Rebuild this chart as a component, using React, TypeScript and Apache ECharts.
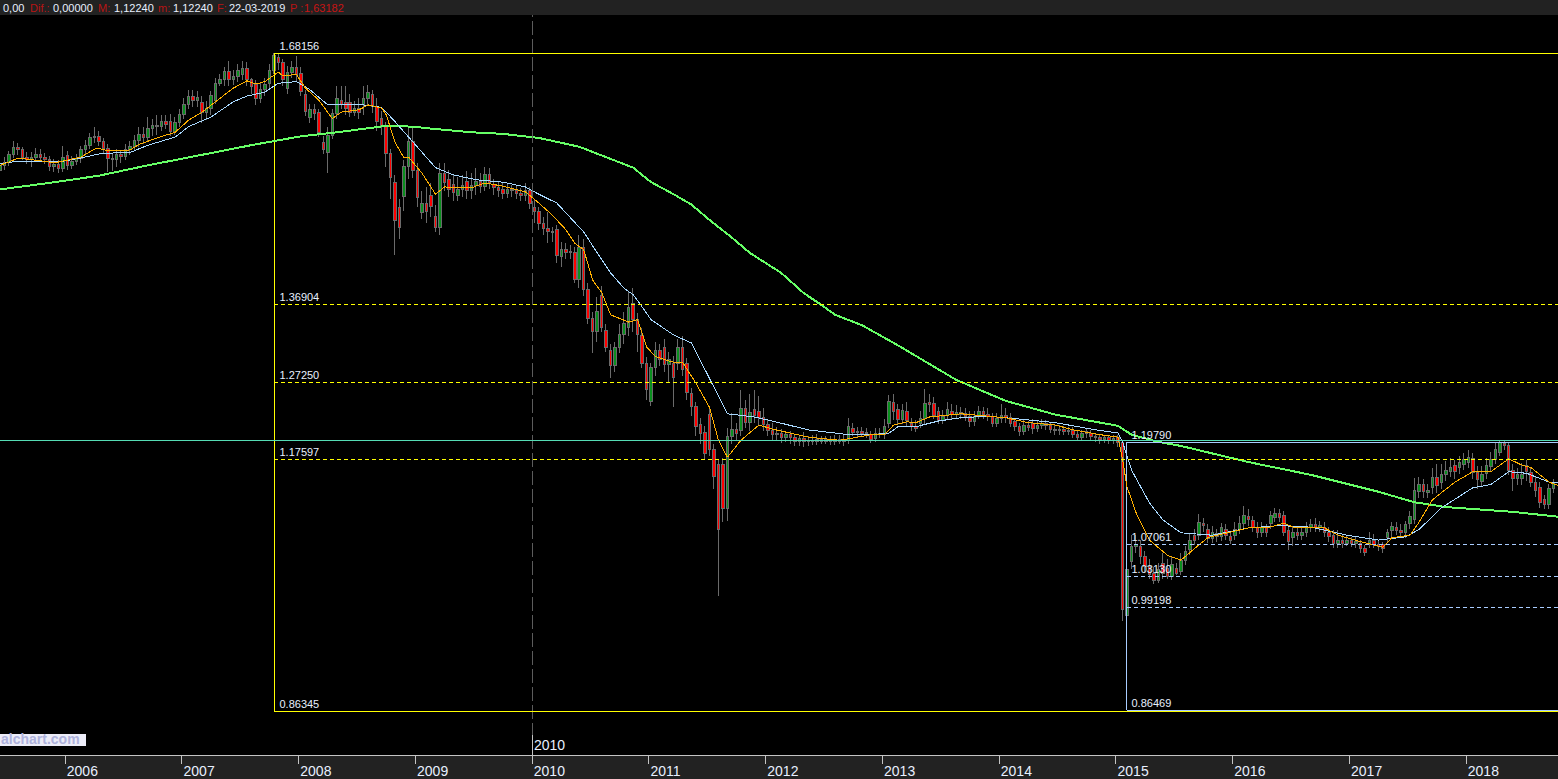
import React, { useEffect, useRef } from 'react';
import * as echarts from 'echarts';

// bars are [open, close, low, high] in thousandths, one bar every two weeks
const candles2005 = [[1536,1542,1528,1548],[1542,1546,1536,1552],[1546,1555,1541,1560],[1555,1564,1551,1572],[1564,1561,1555,1570],[1561,1552,1548,1565],[1552,1549,1544,1558],[1549,1552,1540,1558],[1552,1555,1546,1564],[1555,1552,1547,1562],[1552,1549,1543,1557],[1549,1541,1535,1553],[1541,1543,1534,1550],[1543,1538,1532,1548]];
const candles2006 = [[1538,1552,1534,1566],[1554,1542,1536,1560],[1542,1547,1537,1553],[1547,1550,1542,1556],[1550,1561,1545,1566],[1561,1567,1555,1574],[1567,1576,1562,1582],[1576,1578,1570,1590],[1578,1571,1566,1584],[1571,1563,1556,1576],[1563,1551,1534,1568],[1551,1549,1535,1556],[1549,1555,1540,1562],[1555,1553,1545,1560],[1553,1561,1548,1568],[1561,1565,1555,1572],[1565,1573,1560,1580],[1573,1580,1565,1590],[1580,1577,1568,1590],[1577,1588,1572,1602],[1588,1592,1578,1600],[1592,1590,1580,1604],[1590,1596,1585,1604],[1596,1593,1587,1604],[1597,1584,1578,1606],[1584,1595,1580,1602]];
const candles2007 = [[1595,1605,1590,1612],[1605,1618,1600,1625],[1618,1628,1612,1636],[1628,1622,1615,1636],[1622,1626,1615,1634],[1620,1607,1595,1628],[1607,1613,1598,1622],[1613,1629,1605,1634],[1623,1644,1618,1650],[1644,1648,1640,1655],[1648,1658,1640,1664],[1659,1649,1640,1672],[1649,1652,1642,1660],[1652,1660,1645,1668],[1655,1662,1648,1672],[1662,1648,1640,1670],[1648,1640,1630,1650],[1642,1625,1617,1648],[1625,1636,1620,1645],[1636,1642,1628,1650],[1644,1660,1638,1668],[1660,1678,1655,1682],[1676,1670,1660,1680],[1670,1648,1640,1674],[1637,1657,1630,1665],[1657,1664,1650,1672]];
const candles2008 = [[1664,1655,1645,1678],[1656,1634,1628,1664],[1630,1609,1603,1636],[1601,1611,1595,1618],[1611,1606,1598,1618],[1607,1583,1577,1612],[1570,1562,1556,1578],[1558,1579,1532,1590],[1579,1606,1575,1612],[1606,1625,1600,1640],[1622,1618,1612,1640],[1620,1612,1604,1640],[1620,1608,1602,1630],[1608,1612,1603,1622],[1612,1608,1600,1625],[1617,1625,1605,1640],[1625,1633,1616,1642],[1630,1615,1607,1636],[1615,1597,1585,1625],[1600,1590,1580,1610],[1592,1556,1540,1596],[1556,1527,1500,1562],[1521,1473,1430,1530],[1490,1465,1450,1500],[1503,1540,1485,1548],[1540,1571,1525,1590]];
const candles2009 = [[1571,1536,1526,1590],[1536,1502,1490,1545],[1483,1495,1475,1510],[1495,1484,1470,1515],[1504,1491,1478,1520],[1478,1465,1459,1492],[1465,1532,1455,1545],[1532,1520,1510,1545],[1524,1512,1503,1536],[1518,1508,1498,1530],[1505,1512,1497,1527],[1512,1517,1503,1530],[1522,1511,1500,1535],[1511,1517,1500,1532],[1517,1522,1505,1539],[1522,1515,1507,1532],[1515,1530,1510,1540],[1530,1520,1512,1538],[1518,1514,1505,1525],[1514,1510,1503,1522],[1512,1507,1500,1520],[1507,1512,1501,1520],[1512,1510,1502,1518],[1510,1507,1500,1516],[1507,1505,1498,1514],[1505,1511,1497,1520]];
const candles2010 = [[1510,1495,1488,1515],[1490,1484,1470,1500],[1484,1470,1462,1490],[1470,1463,1455,1478],[1463,1460,1445,1484],[1460,1458,1447,1465],[1462,1430,1420,1468],[1428,1437,1415,1446],[1437,1433,1425,1445],[1433,1435,1426,1443],[1433,1400,1395,1440],[1400,1440,1390,1455],[1440,1388,1380,1450],[1387,1351,1345,1395],[1351,1335,1309,1360],[1335,1360,1322,1378],[1380,1340,1335,1392],[1336,1315,1310,1345],[1312,1293,1277,1320],[1293,1316,1285,1322],[1316,1332,1308,1345],[1332,1345,1320,1360],[1340,1365,1330,1385],[1370,1350,1335,1390],[1350,1331,1310,1358],[1330,1296,1290,1340]];
const candles2011 = [[1296,1263,1250,1303],[1248,1290,1243,1296],[1290,1312,1280,1322],[1312,1300,1292,1320],[1316,1294,1285,1326],[1294,1300,1272,1310],[1296,1278,1241,1305],[1296,1316,1288,1326],[1316,1288,1280,1330],[1295,1259,1250,1302],[1258,1242,1230,1265],[1242,1217,1205,1248],[1220,1208,1195,1228],[1210,1183,1175,1218],[1232,1188,1180,1240],[1188,1155,1140,1195],[1170,1089,1006,1176],[1170,1115,1098,1178],[1115,1205,1100,1215],[1205,1214,1195,1234],[1214,1208,1200,1222],[1212,1240,1205,1262],[1240,1222,1215,1250],[1222,1235,1212,1258],[1238,1231,1222,1262],[1236,1228,1218,1255]];
const candles2012 = [[1228,1220,1212,1240],[1220,1212,1205,1226],[1212,1207,1200,1222],[1207,1208,1200,1216],[1208,1204,1197,1214],[1204,1207,1198,1212],[1207,1203,1196,1212],[1203,1199,1193,1208],[1199,1202,1193,1207],[1202,1198,1192,1210],[1198,1200,1193,1205],[1200,1198,1194,1206],[1198,1201,1194,1208],[1201,1199,1195,1205],[1199,1201,1195,1205],[1201,1198,1194,1205],[1198,1201,1194,1206],[1201,1199,1195,1207],[1199,1201,1193,1206],[1200,1217,1195,1228],[1215,1210,1205,1222],[1210,1211,1204,1217],[1211,1208,1204,1216],[1208,1210,1203,1215],[1207,1201,1197,1212],[1202,1208,1198,1215]];
const candles2013 = [[1208,1207,1203,1215],[1207,1217,1202,1226],[1221,1248,1215,1256],[1247,1236,1225,1258],[1238,1226,1220,1245],[1226,1237,1220,1245],[1236,1225,1218,1248],[1221,1217,1212,1228],[1217,1215,1210,1225],[1221,1227,1215,1236],[1227,1246,1220,1264],[1247,1244,1235,1258],[1246,1231,1226,1254],[1236,1225,1220,1242],[1225,1229,1220,1238],[1231,1238,1226,1248],[1236,1232,1226,1245],[1232,1235,1227,1244],[1235,1232,1226,1242],[1233,1229,1224,1240],[1229,1223,1216,1236],[1224,1230,1218,1236],[1231,1236,1226,1243],[1236,1232,1227,1242],[1232,1229,1224,1240],[1229,1221,1216,1234]];
const candles2014 = [[1221,1227,1216,1234],[1227,1231,1222,1245],[1231,1228,1222,1240],[1228,1221,1216,1234],[1223,1217,1211,1228],[1217,1211,1205,1222],[1211,1219,1206,1226],[1219,1216,1211,1224],[1221,1215,1208,1226],[1215,1218,1210,1224],[1218,1221,1214,1226],[1221,1218,1213,1225],[1218,1214,1209,1223],[1214,1212,1207,1219],[1212,1214,1207,1219],[1214,1211,1206,1218],[1211,1212,1206,1216],[1212,1207,1203,1216],[1207,1204,1200,1212],[1204,1209,1201,1213],[1209,1211,1203,1215],[1209,1205,1200,1213],[1205,1203,1198,1209],[1203,1201,1196,1207],[1201,1203,1197,1207],[1203,1200,1196,1206]];
const candles2015 = [[1200,1202,1196,1207],[1204,1197,1192,1207],[1197,990,975,1200],[982,1039,975,1050],[1049,1068,1040,1082],[1068,1070,1060,1082],[1068,1055,1046,1076],[1055,1043,1035,1062],[1043,1033,1028,1052],[1035,1026,1021,1042],[1026,1040,1022,1048],[1047,1035,1028,1060],[1041,1031,1028,1052],[1031,1045,1026,1056],[1041,1035,1032,1048],[1037,1051,1032,1060],[1051,1062,1045,1068],[1064,1076,1058,1084],[1082,1076,1070,1090],[1082,1098,1076,1108],[1097,1094,1086,1104],[1089,1078,1072,1096],[1078,1086,1072,1094],[1084,1080,1074,1090],[1080,1091,1075,1097],[1089,1082,1076,1096]];
const candles2016 = [[1080,1076,1071,1086],[1082,1089,1076,1098],[1089,1097,1084,1106],[1097,1107,1090,1118],[1105,1101,1094,1114],[1100,1091,1086,1106],[1092,1085,1079,1098],[1086,1092,1080,1098],[1091,1085,1080,1096],[1097,1107,1090,1112],[1104,1109,1098,1116],[1109,1104,1098,1114],[1107,1086,1081,1112],[1088,1074,1064,1094],[1079,1085,1068,1092],[1085,1082,1076,1092],[1082,1086,1076,1094],[1086,1091,1080,1098],[1091,1095,1086,1102],[1095,1091,1086,1104],[1091,1094,1086,1100],[1092,1086,1080,1098],[1086,1080,1074,1092],[1082,1072,1066,1088],[1072,1076,1066,1088],[1076,1072,1066,1084]];
const candles2017 = [[1072,1075,1068,1082],[1075,1072,1067,1080],[1072,1074,1066,1080],[1072,1066,1060,1076],[1066,1061,1056,1070],[1072,1076,1066,1086],[1076,1071,1066,1084],[1071,1068,1063,1076],[1070,1066,1060,1074],[1079,1085,1074,1090],[1088,1093,1080,1098],[1092,1088,1082,1098],[1088,1086,1080,1096],[1085,1095,1078,1100],[1097,1105,1090,1112],[1101,1138,1096,1153],[1136,1145,1128,1155],[1145,1136,1128,1152],[1135,1138,1128,1146],[1141,1154,1133,1166],[1154,1144,1135,1170],[1148,1157,1140,1170],[1157,1163,1150,1174],[1161,1166,1155,1178],[1169,1161,1152,1176],[1166,1172,1158,1180]];
const candles2018 = [[1170,1176,1163,1184],[1173,1179,1165,1188],[1177,1160,1152,1184],[1160,1151,1140,1168],[1149,1157,1142,1168],[1159,1169,1152,1178],[1167,1176,1160,1186],[1176,1188,1170,1198],[1185,1197,1180,1201],[1196,1194,1188,1199],[1194,1163,1157,1198],[1163,1152,1137,1170],[1152,1157,1144,1165],[1152,1158,1145,1172],[1169,1161,1150,1175],[1160,1148,1142,1166],[1148,1137,1130,1155],[1141,1123,1116,1148],[1126,1120,1114,1132],[1120,1140,1114,1146],[1140,1147,1135,1152]];

// moving averages, read at the bar numbers next to them
const fastBars = [0,2,4,7,11,13,18,21,22,24,29,31,35,39,42,45,48,52,55,57,59,62,63,66,68,71,74,76,80,82,85,86,88,90,91,94,97,99,105,108,112,117,120,123,126,128,130,132,134,136,140,142,144,146,150,152,155,158,160,162,165,169,172,180,187,194,197,199,202,204,207,214,220,224,229,235,239,245,249,250,251,253,256,260,263,267,269,271,278,282,286,288,295,298,303,308,310,314,316,319,324,328,332,336,339,341,345,347];
const fastValues = [1542,1546,1551,1549,1546,1546,1552,1562,1563,1560,1561,1568,1576,1583,1598,1608,1621,1638,1647,1643,1646,1658,1653,1655,1638,1623,1600,1608,1611,1617,1613,1605,1570,1551,1552,1532,1506,1515,1514,1520,1516,1509,1495,1480,1462,1445,1437,1399,1384,1356,1347,1350,1316,1304,1297,1297,1271,1241,1200,1179,1200,1219,1214,1204,1200,1207,1207,1219,1223,1222,1229,1233,1230,1228,1222,1219,1213,1207,1204,1176,1142,1110,1076,1057,1051,1070,1079,1082,1091,1091,1097,1092,1091,1082,1074,1067,1079,1082,1098,1126,1148,1161,1161,1177,1169,1166,1148,1144];
const mediumBars = [0,4,9,13,18,22,24,29,33,39,42,47,52,55,59,62,66,69,73,81,85,88,91,94,97,101,106,112,117,120,124,128,130,133,136,139,141,143,145,150,154,159,162,168,172,180,189,194,198,200,204,209,214,220,226,235,243,249,250,252,256,259,263,270,278,285,292,300,307,313,316,321,328,332,336,340,345,347];
const mediumValues = [1544,1547,1547,1546,1551,1556,1557,1558,1567,1577,1590,1602,1621,1628,1633,1644,1646,1636,1617,1617,1614,1596,1577,1558,1539,1530,1524,1521,1515,1506,1495,1471,1459,1433,1408,1389,1381,1366,1350,1331,1321,1266,1233,1229,1224,1213,1207,1207,1209,1217,1217,1224,1228,1230,1227,1222,1214,1209,1198,1163,1122,1101,1085,1082,1091,1094,1092,1082,1076,1080,1089,1116,1141,1145,1161,1159,1148,1148];
const slowBars = [0,11,22,33,45,56,62,67,75,82,86,92,97,105,112,120,129,135,141,145,150,154,158,163,167,174,179,183,186,192,200,213,224,235,249,252,258,263,278,292,307,315,322,337,347];
const slowValues = [1512,1520,1529,1542,1555,1567,1573,1578,1583,1588,1591,1590,1587,1583,1581,1576,1565,1552,1539,1521,1506,1493,1474,1452,1433,1408,1383,1368,1356,1343,1318,1275,1249,1232,1218,1207,1198,1193,1173,1157,1136,1123,1117,1111,1105];

const yearTicks = [2006, 2007, 2008, 2009, 2010, 2011, 2012, 2013, 2014, 2015, 2016, 2017, 2018];
const yellowLevels = [1.68156, 1.36904, 1.2725, 1.17597, 0.86345];
const blueLevels = [1.1979, 1.07061, 1.0313, 0.99198, 0.86469];
const yellowStart = 2007.796;
const blueStart = 2015.094;
const crossPrice = 1.1982;
const headerItems = [
  ['0,00', 3, '#e8f0ff'], ['Dif.:', 30, '#b81414'], ['0,00000', 53, '#e8f0ff'], ['M:', 98, '#b81414'],
  ['1,12240', 114, '#e8f0ff'], ['m:', 158, '#b81414'], ['1,12240', 173, '#e8f0ff'], ['F:', 217, '#b81414'],
  ['22-03-2019', 229, '#e8f0ff'], ['P :', 290, '#b81414'], ['1,63182', 304, '#c81414'],
];

const axisMin = 2005.445;
const axisMax = 2018.79;
const barDate = (i: number) => axisMin + i / 26;
const FONT = '"Liberation Sans", sans-serif';
const allCandles = [...candles2005, ...candles2006, ...candles2007, ...candles2008, ...candles2009, ...candles2010, ...candles2011, ...candles2012, ...candles2013, ...candles2014, ...candles2015, ...candles2016, ...candles2017, ...candles2018];

const maSeries = (name: string, bars: number[], values: number[], color: string, width: number) => ({
  name,
  type: 'line',
  data: bars.map((b, i) => [barDate(b), values[i] / 1000]),
  showSymbol: false,
  lineStyle: { color, width },
  z: 4,
});

const fibSeries = (name: string, start: number, levels: number[], color: string) => {
  const top = levels[0];
  const bottom = levels[levels.length - 1];
  return {
    name,
    type: 'line',
    data: [[axisMax, top], [start, top], [start, bottom], [axisMax, bottom]],
    showSymbol: false,
    lineStyle: { color, width: 1 },
    z: 3,
    markLine: {
      silent: true,
      symbol: 'none',
      animation: false,
      data: levels.map((level, i) => [
        {
          coord: [start, level],
          lineStyle: { color, width: 1, type: i === 0 || i === levels.length - 1 ? 'solid' : [4, 3] },
          label: {
            show: true,
            position: 'insideStartTop',
            distance: 2,
            padding: [0, 0, 0, 3],
            formatter: level.toFixed(5),
            color: '#e8f0ff',
            fontFamily: FONT,
            fontSize: 11,
          },
        },
        { coord: [axisMax, level] },
      ]),
    },
  };
};

export default function App() {
  const chartRef = useRef<HTMLDivElement>(null);

  useEffect(() => {
    if (!chartRef.current) return;
    const chart = echarts.init(chartRef.current, undefined, { renderer: 'svg' });
    const option: any = {
      animation: false,
      backgroundColor: '#000',
      grid: { left: 0, right: 0, top: 15, bottom: 24 },
      xAxis: {
        type: 'value',
        min: axisMin,
        max: axisMax,
        splitLine: { show: false },
        axisLine: { show: true, onZero: false, lineStyle: { color: '#c4c4c4', width: 1 } },
        axisTick: { show: true, length: 9, customValues: yearTicks, lineStyle: { color: '#c4c4c4' } },
        axisLabel: {
          customValues: yearTicks,
          formatter: (v: number) => String(v),
          color: '#e8f0ff',
          fontFamily: FONT,
          fontSize: 14,
          align: 'left',
          margin: 9,
          padding: [0, 0, 0, 2],
        },
      },
      yAxis: { type: 'value', min: 0.80875, max: 1.72881, show: false, splitLine: { show: false } },
      graphic: [
        { type: 'rect', z: 0, shape: { x: 0, y: 0, width: 1558, height: 15 }, style: { fill: '#222222' } },
        { type: 'rect', z: 0, shape: { x: 0, y: 756, width: 1558, height: 23 }, style: { fill: '#222222' } },
        ...headerItems.map(([text, x, color]) => ({
          type: 'text',
          z: 10,
          x: x as number,
          y: 2,
          style: { text: text as string, fill: color as string, font: `11px ${FONT}` },
        })),
        { type: 'rect', z: 10, shape: { x: 0, y: 734, width: 86, height: 12 }, style: { fill: '#ececf8' } },
        {
          type: 'text',
          z: 11,
          x: 1,
          y: 732,
          style: { text: 'alchart.com', fill: '#aeb2dc', font: `bold 14px ${FONT}` },
        },
        { type: 'line', z: 10, shape: { x1: 532.5, y1: 735, x2: 532.5, y2: 755 }, style: { stroke: '#c4c4c4', lineWidth: 1 } },
        { type: 'text', z: 10, x: 534, y: 738, style: { text: '2010', fill: '#e8f0ff', font: `14px ${FONT}` } },
      ],
      series: [
        {
          type: 'candlestick',
          name: 'price',
          data: allCandles.map((c, i) => [barDate(i), c[0] / 1000, c[1] / 1000, c[2] / 1000, c[3] / 1000]),
          barWidth: 3,
          itemStyle: {
            color: '#0a8f1e',
            color0: '#ff0000',
            borderColor: '#6a6a6a',
            borderColor0: '#6a6a6a',
            borderColorDoji: '#6a6a6a',
            borderWidth: 1,
          },
          z: 2,
          markLine: {
            silent: true,
            symbol: 'none',
            label: { show: false },
            data: [
              { xAxis: 2010, lineStyle: { color: '#5c5c5c', width: 1, type: [14, 4] } },
              { yAxis: crossPrice, lineStyle: { color: '#55dcb4', width: 1, type: 'solid' } },
            ],
          },
        },
        maSeries('slow', slowBars, slowValues, '#66ff66', 2),
        maSeries('medium', mediumBars, mediumValues, '#a8d8ff', 1),
        maSeries('fast', fastBars, fastValues, '#ffb000', 1),
        fibSeries('yellow', yellowStart, yellowLevels, '#ffff00'),
        fibSeries('blue', blueStart, blueLevels, '#a8ccff'),
      ],
    };
    chart.setOption(option);
    return () => chart.dispose();
  }, []);

  return (
    <>
      {/* the original is drawn without anti-aliasing */}
      <style>{'svg path, svg line, svg rect { shape-rendering: crispEdges; }'}</style>
      <div
        ref={chartRef}
        style={{ position: 'fixed', left: 0, top: 0, width: 1558, height: 779, background: '#000' }}
      />
    </>
  );
}
